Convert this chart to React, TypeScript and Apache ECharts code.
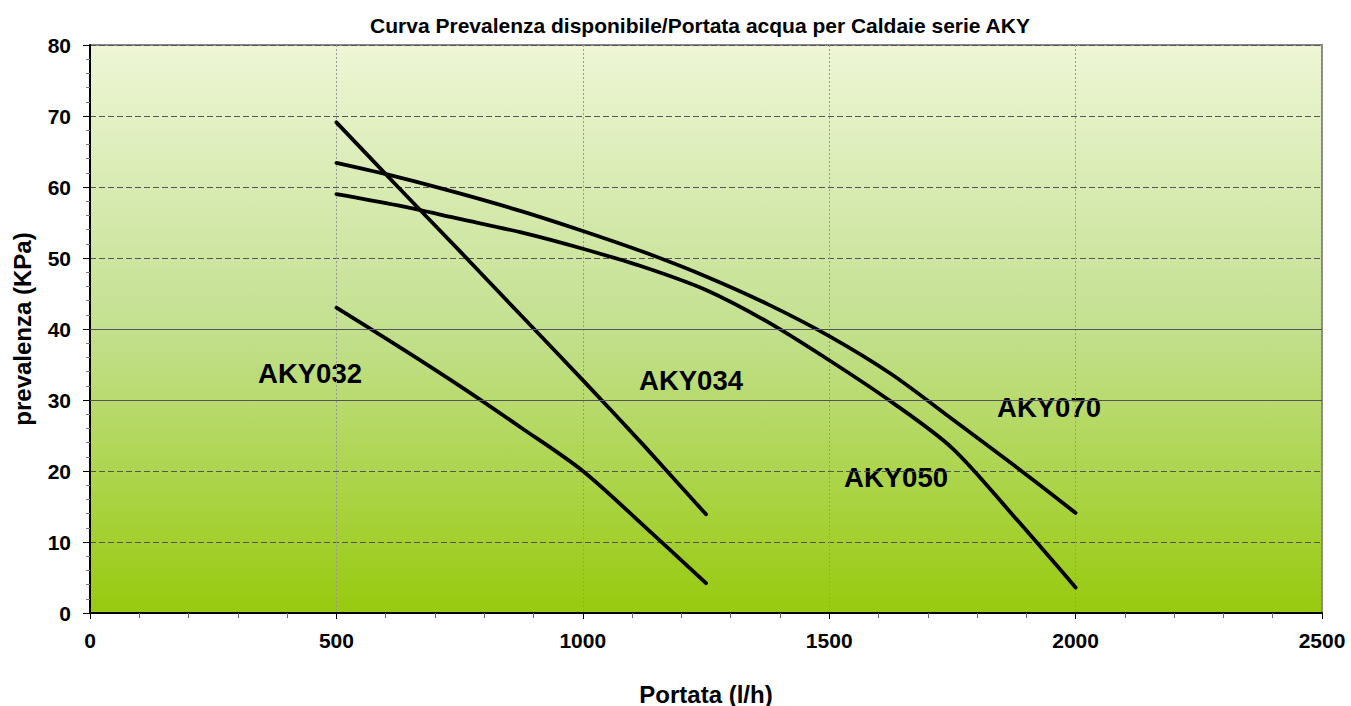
import React, { useEffect, useRef } from "react";
import * as echarts from "echarts";

const TITLE = "Curva Prevalenza disponibile/Portata acqua per Caldaie serie AKY";
const X_NAME = "Portata (l/h)";
const Y_NAME = "prevalenza (KPa)";

const aky032X = [500, 625, 750, 875, 1000, 1125, 1250];
const aky032Y = [43.0, 37.6, 32.0, 26.1, 20.0, 12.2, 4.2];

const aky034X = [500, 625, 750, 875, 1000, 1125, 1250];
const aky034Y = [69.1, 60.0, 51.0, 41.9, 32.8, 23.5, 13.9];

const aky050X = [500, 625, 750, 875, 1000, 1125, 1250, 1375, 1500, 1625, 1750, 1875, 2000];
const aky050Y = [59.0, 57.4, 55.5, 53.6, 51.3, 48.7, 45.5, 41.0, 35.6, 29.8, 23.2, 13.6, 3.6];

const aky070X = [500, 625, 750, 875, 1000, 1125, 1250, 1375, 1500, 1625, 1750, 1875, 2000];
const aky070Y = [63.4, 61.4, 59.1, 56.6, 53.8, 50.8, 47.4, 43.5, 39.0, 33.7, 27.3, 20.8, 14.1];

const solidGridValues = [30, 40];

const labels = [
  { text: "AKY032", x: 310, y: 373 },
  { text: "AKY034", x: 691, y: 380 },
  { text: "AKY050", x: 896, y: 477 },
  { text: "AKY070", x: 1049, y: 407 },
];

const zip = (xs: number[], ys: number[]) => xs.map((x, i) => [x, ys[i]]);

export default function App() {
  const ref = useRef<HTMLDivElement>(null);
  useEffect(() => {
    if (!ref.current) return;
    const chart = echarts.init(ref.current, null, { renderer: "svg" });
    const font = "'Liberation Sans', Arial, sans-serif";
    const lineSeries = (name: string, xs: number[], ys: number[], extra: any = {}) => ({
      type: "line",
      name,
      data: zip(xs, ys),
      smooth: 0.3,
      showSymbol: false,
      lineStyle: { color: "#000", width: 3.8, cap: "round" },
      ...extra,
    });
    chart.setOption({
      animation: false,
      title: {
        text: TITLE,
        left: 695,
        top: 10,
        textAlign: "center",
        textStyle: { fontFamily: font, fontWeight: "bold", fontSize: 21, color: "#000" },
      },
      grid: {
        left: 90,
        right: 29,
        top: 45,
        bottom: 93,
        containLabel: false,
        outerBoundsMode: "none",
        show: true,
        borderColor: "#888",
        borderWidth: 2,
        backgroundColor: new echarts.graphic.LinearGradient(0, 0, 0, 1, [
          { offset: 0, color: "#eef6d6" },
          { offset: 0.5, color: "#c3e08f" },
          { offset: 1, color: "#98ca0e" },
        ]),
      },
      xAxis: {
        type: "value",
        min: 0,
        max: 2500,
        interval: 500,
        name: X_NAME,
        nameLocation: "middle",
        nameGap: 69,
        nameTextStyle: { fontFamily: font, fontWeight: "bold", fontSize: 24, color: "#000" },
        axisLine: { show: true, lineStyle: { color: "#000", width: 2 } },
        axisTick: { show: true, length: 6, lineStyle: { color: "#000" } },
        minorTick: { show: true, splitNumber: 5, length: 5, lineStyle: { color: "#666" } },
        axisLabel: {
          fontFamily: font,
          fontWeight: "bold",
          fontSize: 21,
          color: "#000",
          margin: 17,
          formatter: (v: number) => String(v),
        },
        splitLine: { show: true, lineStyle: { color: "#999", type: [2, 2], width: 1 } },
      },
      yAxis: {
        type: "value",
        min: 0,
        max: 80,
        interval: 10,
        name: Y_NAME,
        nameLocation: "middle",
        nameGap: 56,
        nameTextStyle: { fontFamily: font, fontWeight: "bold", fontSize: 24, color: "#000" },
        axisLine: { show: true, lineStyle: { color: "#000", width: 2 } },
        axisTick: { show: true, length: 7, lineStyle: { color: "#000" } },
        minorTick: { show: true, splitNumber: 5, length: 4, lineStyle: { color: "#777" } },
        axisLabel: {
          fontFamily: font,
          fontWeight: "bold",
          fontSize: 21,
          color: "#000",
          margin: 19,
          formatter: (v: number) => String(v),
        },
        splitLine: { show: true, lineStyle: { color: "#555", type: [6, 3], width: 1 } },
      },
      series: [
        lineSeries("AKY032", aky032X, aky032Y, {
          markLine: {
            silent: true,
            symbol: "none",
            label: { show: false },
            lineStyle: { color: "#555", type: "solid", width: 1 },
            data: solidGridValues.map((v) => ({ yAxis: v })),
          },
        }),
        lineSeries("AKY034", aky034X, aky034Y, { smooth: 0.2 }),
        lineSeries("AKY050", aky050X, aky050Y),
        lineSeries("AKY070", aky070X, aky070Y),
      ],
      graphic: labels.map((l) => ({
        type: "text",
        x: l.x,
        y: l.y,
        style: {
          text: l.text,
          fontFamily: font,
          fontWeight: "bold",
          fontSize: 27.5,
          fill: "#000",
          align: "center",
          verticalAlign: "middle",
        },
      })),
    });
    return () => chart.dispose();
  }, []);
  return (
    <div
      ref={ref}
      style={{ position: "fixed", left: 0, top: 0, width: 1351, height: 706, background: "#fff" }}
    />
  );
}
